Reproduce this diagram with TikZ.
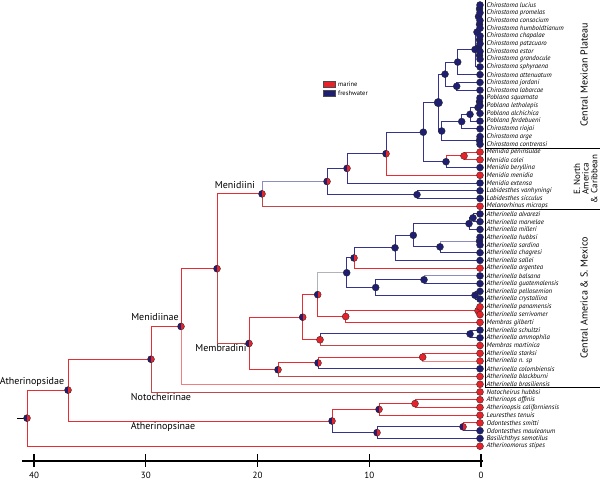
\documentclass[tikz,border=0pt]{standalone}
\usepackage{fontspec}
\setmainfont{PT Sans}
\definecolor{mred}{RGB}{232,34,42}
\definecolor{mblue}{RGB}{30,30,115}
\definecolor{lred}{RGB}{228,46,52}
\definecolor{lblue}{RGB}{52,52,142}
\definecolor{lpale}{RGB}{140,140,190}
\definecolor{lgray}{RGB}{178,178,186}
\definecolor{ldull}{RGB}{192,72,72}
\definecolor{lpink}{RGB}{240,128,128}
\tikzset{
 brch/.style={line width=1.0pt},
 rb/.style={brch, lred}, bb/.style={brch, lblue}, pb/.style={brch, lpale},
 gb/.style={brch, lgray}, db/.style={brch, ldull}, kb/.style={brch, lpink},
 ndot/.style={circle, draw=black!85, line width=0.35pt, minimum size=7pt, inner sep=0pt},
 rd/.style={ndot, fill=mred}, bd/.style={ndot, fill=mblue},
 md/.style={ndot, fill=mred, path picture={\fill[mblue] (path picture bounding box.north west) rectangle (path picture bounding box.south);}},
 tiplab/.style={anchor=west, font=\fontsize{6.8}{7}\selectfont\itshape, inner sep=0pt},
 clade/.style={font=\fontsize{10}{11}\selectfont, inner sep=0pt},
 region/.style={font=\fontsize{10}{11}\selectfont, inner sep=0pt, rotate=90},
}
\begin{document}
\begin{tikzpicture}[x=1pt,y=-1pt]
\useasboundingbox (0,0) rectangle (600,481);
% tips
\foreach \i in {1,...,58} \coordinate (t\i) at (480,{5+(\i-1)*7.74});
% internal nodes
\coordinate (c12) at (479.5,8.87);
\coordinate (c34) at (479.5,24.35);
\coordinate (c14) at (478.5,16.61);
\coordinate (c56) at (479.5,39.83);
\coordinate (c78) at (479.5,55.31);
\coordinate (c58) at (478.5,47.57);
\coordinate (c18) at (477,32.09);
\coordinate (c19) at (475,49.5);
\coordinate (c110) at (457.7,62.1);
\coordinate (c1112) at (456.7,86.27);
\coordinate (c112) at (445,74.18);
\coordinate (c1314) at (479.5,101.75);
\coordinate (c1315) at (478,107.57);
\coordinate (c1316) at (470,114.33);
\coordinate (c1317) at (461.7,121.58);
\coordinate (c1819) at (479.5,140.45);
\coordinate (c1319) at (441.7,131.02);
\coordinate (c119) at (438.3,102.6);
\coordinate (m2021) at (464,155.93);
\coordinate (m2022) at (446,161.74);
\coordinate (m1922) at (423.3,132.17);
\coordinate (m1923) at (386,153.73);
\coordinate (m1924) at (347,168.38);
\coordinate (m2526) at (417,194.63);
\coordinate (m1926) at (327,181.5);
\coordinate (menidiini) at (262,193.87);
\coordinate (a2829) at (473,217.85);
\coordinate (a2830) at (469,223.64);
\coordinate (a3132) at (479.5,241.07);
\coordinate (a3133) at (440,246.88);
\coordinate (a2833) at (413.3,235.26);
\coordinate (a2834) at (395,247.83);
\coordinate (a2835) at (354,258.0);
\coordinate (a3637) at (424,279.77);
\coordinate (a3839) at (475,295.25);
\coordinate (a3639) at (375.7,287.51);
\coordinate (a2839) at (346.7,272.76);
\coordinate (a4041) at (478,310.73);
\coordinate (a4042) at (345.7,316.53);
\coordinate (a2842) at (317.7,294.65);
\coordinate (a4344) at (470,333.95);
\coordinate (a4345) at (320,339.76);
\coordinate (a2845) at (302.7,317.2);
\coordinate (a4647) at (422.7,357.17);
\coordinate (a4648) at (318,362.98);
\coordinate (a4649) at (278,369.75);
\coordinate (membradini) at (249,343.48);
\coordinate (n217) at (217,268.68);
\coordinate (menidiinae) at (181,326.47);
\coordinate (n151) at (151,359.24);
\coordinate (p5253) at (415,403.61);
\coordinate (p5254) at (379,409.42);
\coordinate (p5556) at (463,426.83);
\coordinate (p5557) at (377,432.64);
\coordinate (atherinopsinae) at (332,421.0);
\coordinate (atherinopsidae) at (68,390.1);
\coordinate (root) at (27,418.14);
\coordinate (stub) at (17,418.14);
% branches
\draw[brch,black] (stub) -- (root);
\foreach \p/\c in {root/atherinopsidae, root/t58, atherinopsidae/n151, atherinopsidae/atherinopsinae,
  n151/menidiinae, menidiinae/n217, n217/menidiini, m1923/t23, m2022/m2021, m2021/t20, m2021/t21,
  membradini/a2845, membradini/a4649, a4649/a4648, a4648/a4647, a4647/t46, a2845/a2842, a2845/a4345,
  a2842/a4042, a4042/a4041, a4041/t40, a4041/t41, a4042/t42, a2835/t35, atherinopsinae/p5254,
  p5254/p5253, p5253/t52, p5253/t53, p5254/t54, p5556/t55}
  \draw[rb] (\p) |- (\c);
\foreach \p/\c in {n151/t51, n217/membradini, menidiini/t27, a4649/t49, a4345/t45}
  \draw[db] (\p) |- (\c);
\foreach \p/\c in {menidiinae/t50, a4647/t47}
  \draw[kb] (\p) |- (\c);
\foreach \p/\c in {menidiini/m1926, a3637/t36, a3133/a3132}
  \draw[pb] (\p) |- (\c);
\draw[gb] (a2842) |- (a2839);
\foreach \p/\c in {m1926/m1924, m1926/m2526, m2526/t25, m2526/t26, m1924/m1923, m1924/t24, m1923/m1922,
  m1922/c119, m1922/m2022, m2022/t22,
  c119/c112, c119/c1319, c112/c110, c112/c1112, c1112/t11, c1112/t12, c110/c19, c110/t10, c19/c18, c19/t9,
  c18/c14, c18/c58, c14/c12, c14/c34, c12/t1, c12/t2, c34/t3, c34/t4, c58/c56, c58/c78, c56/t5, c56/t6,
  c78/t7, c78/t8, c1319/c1317, c1319/c1819, c1819/t18, c1819/t19, c1317/c1316, c1317/t17, c1316/c1315,
  c1316/t16, c1315/c1314, c1315/t15, c1314/t13, c1314/t14,
  a4648/t48, a4345/a4344, a4344/t43, a4344/t44, a2839/a2835, a2839/a3639, a2835/a2834, a2834/a2833,
  a2834/t34, a2833/a2830, a2833/a3133, a2830/a2829, a2830/t30, a2829/t28, a2829/t29, a3132/t31,
  a3132/t32, a3133/t33, a3639/a3637, a3637/t37, a3639/a3839, a3839/t38, a3839/t39,
  atherinopsinae/p5557, p5557/p5556, p5556/t56, p5557/t57}
  \draw[bb] (\p) |- (\c);
% node dots
\foreach \n in {root, atherinopsidae, n151, menidiinae, n217, menidiini, m1926, m1924, m1923, membradini,
  a4649, a4648, a2845, a2842, a2835, atherinopsinae, p5254, p5557, p5556}
  \node[md] (d\n) at (\n) {};
\foreach \n in {m2021, a4647, a4345, a4042, a4041, p5253}
  \node[rd] (d\n) at (\n) {};
\foreach \n in {m1922, m2022, m2526, c12, c34, c14, c56, c78, c58, c18, c19, c110, c1112, c112, c1314,
  c1315, c1316, c1317, c1819, c1319, a4344, a2839, a2834, a2833, a2830, a2829, a3133, a3132, a3639,
  a3637, a3839}
  \node[bd] (d\n) at (\n) {};
\node[bd, minimum size=8.5pt] (dc119) at (c119) {};
% tip dots
\foreach \i in {20,21,23,27,35,40,41,42,45,46,47,49,50,51,52,53,54,55,58}
  \node[rd] (d\i) at (t\i) {};
\foreach \i in {1,...,19,22,24,25,26,28,29,30,31,32,33,34,36,37,38,39,43,44,48,56,57}
  \node[bd] (d\i) at (t\i) {};
% tip labels
\foreach \i/\s in {1/Chirostoma lucius, 2/Chirostoma promelas, 3/Chirostoma consocium,
  4/Chirostoma humboldtianum, 5/Chirostoma chapalae, 6/Chirostoma patzcuaro, 7/Chirostoma estor,
  8/Chirostoma grandocule, 9/Chirostoma sphyraena, 10/Chirostoma attenuatum, 11/Chirostoma jordani,
  12/Chirostoma labarcae, 13/Poblana squamata, 14/Poblana letholepis, 15/Poblana alchichica,
  16/Poblana ferdebueni, 17/Chirostoma riojai, 18/Chirostoma arge, 19/Chirostoma contrerasi,
  20/Menidia peninsulae, 21/Menidia colei, 22/Menidia beryllina, 23/Menidia menidia,
  24/Menidia extensa, 25/Labidesthes vanhyningi, 26/Labidesthes sicculus, 27/Melanorhinus microps,
  28/Atherinella alvarezi, 29/Atherinella marvelae, 30/Atherinella milleri, 31/Atherinella hubbsi,
  32/Atherinella sardina, 33/Atherinella chagresi, 34/Atherinella sallei, 35/Atherinella argentea,
  36/Atherinella balsana, 37/Atherinella guatemalensis, 38/Atherinella pellosemion,
  39/Atherinella crystallina, 40/Atherinella panamensis, 41/Atherinella serrivomer,
  42/Membras gilberti, 43/Atherinella schultzi, 44/Atherinella ammophila, 45/Membras martinica,
  46/Atherinella starksi, 47/Atherinella n. sp, 48/Atherinella colombiensis, 49/Atherinella blackburni,
  50/Atherinella brasiliensis, 51/Notocheirus hubbsi, 52/Atherinops affinis,
  53/Atherinopsis californiensis, 54/Leuresthes tenuis, 55/Odontesthes smitti,
  56/Odontesthes mauleanum, 57/Basilichthys semotilus, 58/Atherinomorus stipes}
  \node[tiplab, xshift=6.5pt] (l\i) at (t\i) {\s};
% clade labels
\node[clade] (lab1) at (32,382) {Atherinopsidae};
\node[clade] (lab2) at (155,317) {Menidiinae};
\node[clade] (lab3) at (235,185) {Menidiini};
\node[clade] (lab4) at (221,348) {Membradini};
\node[clade] (lab5) at (161,397) {Notocheirinae};
\node[clade] (lab6) at (163,427) {Atherinopsinae};
% region boxes
\coordinate (bx0) at (485,0);
\coordinate (bx1) at (485,387);
\coordinate (bs1) at (600,148);
\coordinate (bs2) at (600,209.5);
\coordinate (bs3) at (600,387);
\draw[line width=0.5pt] (bx0) -- (bx1) -- (bs3);
\draw[line width=0.5pt] (485,148) -- (bs1);
\draw[line width=0.5pt] (485,209.5) -- (bs2);
\node[region] (r1) at (584,75) {Central Mexican Plateau};
\node[region, align=center, font=\fontsize{9}{8.6}\selectfont] (r2) at (585.5,179) {E. North\\America\\\& Caribbean};
\node[region] (r3) at (584,298) {Central America \& S. Mexico};
% legend
\node[draw=black!70, fill=mred, minimum width=11.5pt, minimum height=6pt, inner sep=0pt] (lg1) at (329.2,84.7) {};
\node[draw=black!70, fill=mblue, minimum width=11.5pt, minimum height=6pt, inner sep=0pt] (lg2) at (329.2,93.7) {};
\node[anchor=west, font=\fontsize{6.5}{7}\selectfont, inner sep=0pt] (lgt1) at (338,84.7) {marine};
\node[anchor=west, font=\fontsize{6.5}{7}\selectfont, inner sep=0pt] (lgt2) at (338,93.7) {freshwater};
% axis
\coordinate (ax0) at (22,461);
\coordinate (ax1) at (483,461);
\draw[line width=1.1pt] (ax0) -- (ax1);
\foreach \a in {0,10,20,30,40} {
  \draw[line width=1.1pt] ({481-11.175*\a},454) -- ({481-11.175*\a},467);
  \node[font=\fontsize{9}{10}\selectfont, inner sep=0pt] (tk\a) at ({481-11.175*\a},475) {\a};
}
\end{tikzpicture}
\end{document}
